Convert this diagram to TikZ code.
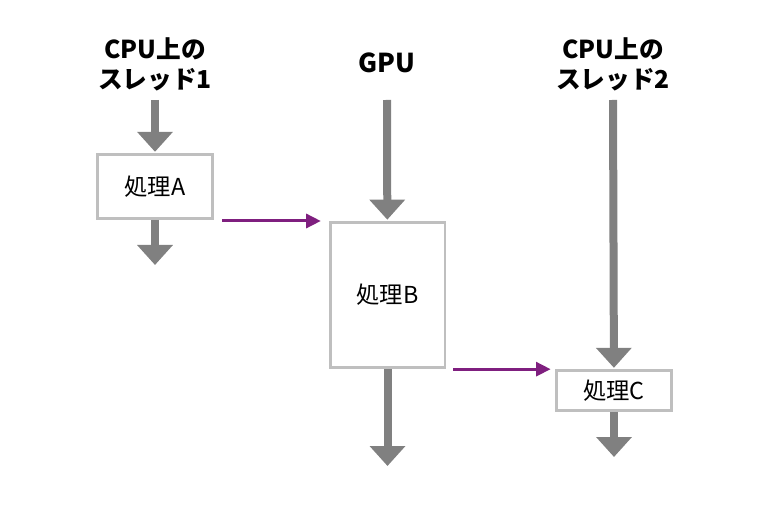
\documentclass[tikz,border=0pt]{standalone}
\usepackage{fontspec}
\setmainfont{Noto Sans CJK JP}
\usepackage{tikz}
\usetikzlibrary{positioning, calc, arrows.meta}
\definecolor{flowgray}{HTML}{808080}
\definecolor{boxgray}{HTML}{BFBFBF}
\definecolor{handoff}{HTML}{7F1F7F}
\tikzset{
    %Define style for boxes
    procbox/.style={
           rectangle,
           draw=boxgray, line width=2pt,
           fill=white,
           minimum width=86pt,
           inner sep=0pt,
           font=\fontsize{17.5}{20}\selectfont},
 %
    header/.style={
           align=center,
           inner sep=0pt,
           font=\bfseries\fontsize{18.5}{22.5}\selectfont},
 %
    % Define arrow styles
    flow/.style={
           -{Triangle[width=26pt,length=15pt]},
           draw=flowgray, line width=6pt,
           shorten >=1pt},
 %
    handoffarrow/.style={
           -{Triangle[width=10.5pt,length=11pt]},
           draw=handoff, line width=2.25pt}
}
\begin{document}
\begin{tikzpicture}[x=0.75pt, y=-0.75pt]
  \useasboundingbox (0,0) rectangle (774,516);

  % lane heads
  \node[header] (hdrA) at (155,64) {CPU上の\\スレッド1};
  \node[header, font=\bfseries\fontsize{19.5}{22.5}\selectfont] (gpu) at (387,63) {GPU};
  \node[header] (hdrC) at (613,64) {CPU上の\\スレッド2};
  \coordinate (lanetop) at (0,100);

  % work boxes
  \node[procbox, minimum height=48pt] (boxA) at (155,186.5) {処理A};
  \node[procbox, minimum height=109pt] (boxB) at (387.5,295) {処理B};
  \node[procbox, minimum height=30pt] (boxC) at (614,390.5) {処理C};

  \coordinate (endA) at (155,265);
  \coordinate (endB) at (387.5,466);
  \coordinate (endC) at (614,457);

  \draw[flow] (hdrA |- lanetop) -- (boxA);
  \draw[flow] (gpu |- lanetop) -- (boxB);
  \draw[flow] (hdrC |- lanetop) -- (boxC);
  \draw[flow, shorten >=0pt] (boxA) -- (endA);
  \draw[flow, shorten >=0pt] (boxB) -- (endB);
  \draw[flow, shorten >=0pt] (boxC) -- (endC);

  \draw[handoffarrow] ([xshift=6.5pt]boxA.east |- boxB.north) -- ([xshift=-6pt]boxB.north west);
  \draw[handoffarrow] ([xshift=5.4pt]boxB.east |- boxC.north) -- ([xshift=-3.5pt]boxC.north west);
\end{tikzpicture}
\end{document}
